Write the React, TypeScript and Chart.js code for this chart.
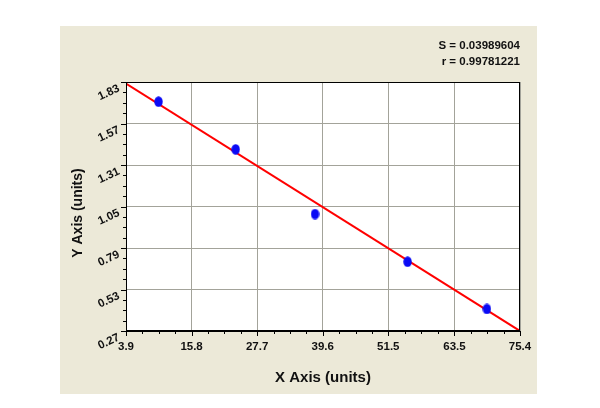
import React, { useEffect, useRef } from 'react';
import { Chart, registerables } from 'chart.js';

Chart.register(...registerables);

const xTicks = [3.9, 15.8, 27.7, 39.6, 51.5, 63.5, 75.4];
const xTickLabels = ['3.9', '15.8', '27.7', '39.6', '51.5', '63.5', '75.4'];
const yTicks = [0.27, 0.53, 0.79, 1.05, 1.31, 1.57, 1.83];
const yTickLabels = ['0.27', '0.53', '0.79', '1.05', '1.31', '1.57', '1.83'];
const pointX = [9.8, 23.8, 38.2, 55.0, 69.4];
const pointY = [1.707, 1.408, 1.003, 0.704, 0.408];
const fitX = [3.9, 75.4];
const fitY = [1.82, 0.27];
const statLines = ['S = 0.03989604', 'r = 0.99781221'];
const xTitle = 'X Axis (units)';
const yTitle = 'Y Axis (units)';

const FONT = '"Liberation Sans", Arial, sans-serif';

function makeDot(): HTMLCanvasElement {
  const c = document.createElement('canvas');
  c.width = 9;
  c.height = 11;
  const g = c.getContext('2d')!;
  g.fillStyle = '#0a0af5';
  g.beginPath();
  g.ellipse(4.5, 5.5, 4.2, 5.3, 0, 0, Math.PI * 2);
  g.fill();
  return c;
}

const decor = {
  id: 'decor',
  beforeDraw(chart: any) {
    const ctx = chart.ctx;
    const a = chart.chartArea;
    ctx.save();
    ctx.fillStyle = '#ECE9D8';
    ctx.fillRect(60, 26, 477, 368);
    ctx.fillStyle = '#ffffff';
    ctx.fillRect(a.left, a.top, a.right - a.left, a.bottom - a.top);
    ctx.restore();
  },
  afterDraw(chart: any) {
    const ctx = chart.ctx;
    const a = chart.chartArea;
    const xs = chart.scales.x;
    const ys = chart.scales.y;
    ctx.save();
    ctx.strokeStyle = '#000';
    ctx.lineWidth = 1;
    ctx.strokeRect(a.left + 0.5, a.top + 0.5, a.right - a.left - 1, a.bottom - a.top - 1);
    ctx.beginPath();
    for (let i = 0; i < xTicks.length; i++) {
      const px = Math.round(xs.getPixelForValue(xTicks[i])) + 0.5;
      ctx.moveTo(px, a.bottom);
      ctx.lineTo(px, a.bottom + 5);
      if (i < xTicks.length - 1) {
        for (let k = 1; k < 4; k++) {
          const v = xTicks[i] + ((xTicks[i + 1] - xTicks[i]) * k) / 4;
          const mx = Math.round(xs.getPixelForValue(v)) + 0.5;
          ctx.moveTo(mx, a.bottom);
          ctx.lineTo(mx, a.bottom + 3);
        }
      }
    }
    for (let i = 0; i < yTicks.length; i++) {
      const py = Math.round(ys.getPixelForValue(yTicks[i])) + 0.5;
      ctx.moveTo(a.left, py);
      ctx.lineTo(a.left - 5, py);
      if (i < yTicks.length - 1) {
        for (let k = 1; k < 4; k++) {
          const v = yTicks[i] + ((yTicks[i + 1] - yTicks[i]) * k) / 4;
          const my = Math.round(ys.getPixelForValue(v)) + 0.5;
          ctx.moveTo(a.left, my);
          ctx.lineTo(a.left - 3, my);
        }
      }
    }
    ctx.stroke();
    ctx.fillStyle = '#111';
    ctx.font = 'bold 11.5px ' + FONT;
    ctx.textAlign = 'right';
    ctx.textBaseline = 'middle';
    ctx.fillText(statLines[0], a.right, 46);
    ctx.fillText(statLines[1], a.right, 62);
    ctx.font = 'bold 15px ' + FONT;
    ctx.textAlign = 'center';
    ctx.fillText(xTitle, (a.left + a.right) / 2, 378);
    ctx.translate(78, 213);
    ctx.rotate(-Math.PI / 2);
    ctx.font = 'bold 14px ' + FONT;
    ctx.fillText(yTitle, 0, 0);
    ctx.restore();
  },
};

export default function App() {
  const ref = useRef<HTMLCanvasElement | null>(null);
  useEffect(() => {
    document.body.style.margin = '0';
    const dot = makeDot();
    const chart = new Chart(ref.current!, {
      type: 'scatter',
      data: {
        datasets: [
          {
            type: 'line',
            label: 'fit',
            data: fitX.map((x, i) => ({ x, y: fitY[i] })),
            borderColor: '#ff0000',
            borderWidth: 2,
            pointRadius: 0,
            fill: false,
            order: 2,
          },
          {
            label: 'points',
            data: pointX.map((x, i) => ({ x, y: pointY[i] })),
            pointStyle: dot as any,
            pointRadius: 5,
            backgroundColor: '#0a0af5',
            borderColor: '#0a0af5',
            order: 1,
          },
        ],
      },
      options: {
        animation: false,
        responsive: false,
        devicePixelRatio: 1,
        layout: { padding: { left: 0, top: 82, right: 80, bottom: 0 } },
        plugins: { legend: { display: false }, tooltip: { enabled: false }, title: { display: false } },
        scales: {
          x: {
            type: 'linear',
            min: 3.9,
            max: 75.4,
            afterBuildTicks: (s: any) => {
              s.ticks = xTicks.map((v) => ({ value: v }));
            },
            afterFit: (s: any) => {
              s.height = 77;
              s.paddingLeft = 0;
              s.paddingRight = 0;
            },
            grid: { color: '#a3a39a', lineWidth: 1, drawTicks: false },
            border: { display: true, color: '#000', width: 1 },
            ticks: {
              padding: 9,
              color: '#111',
              font: { family: FONT, size: 11.5, weight: 'bold' },
              maxRotation: 0,
              minRotation: 0,
              callback: (_v: any, i: number) => xTickLabels[i],
            },
          },
          y: {
            type: 'linear',
            min: 0.27,
            max: 1.83,
            afterBuildTicks: (s: any) => {
              s.ticks = yTicks.map((v) => ({ value: v }));
            },
            afterFit: (s: any) => {
              s.width = 126;
              s.paddingTop = 0;
              s.paddingBottom = 0;
            },
            grid: { color: '#a3a39a', lineWidth: 1, drawTicks: false },
            border: { display: true, color: '#000', width: 1 },
            ticks: {
              padding: 7,
              labelOffset: 6,
              minRotation: 25,
              maxRotation: 25,
              color: '#111',
              font: { family: FONT, size: 11.5, weight: 'bold' },
              callback: (_v: any, i: number) => yTickLabels[i],
            },
          },
        },
      },
      plugins: [decor],
    });
    return () => chart.destroy();
  }, []);
  return <canvas ref={ref} width={600} height={408} style={{ display: 'block' }} />;
}
